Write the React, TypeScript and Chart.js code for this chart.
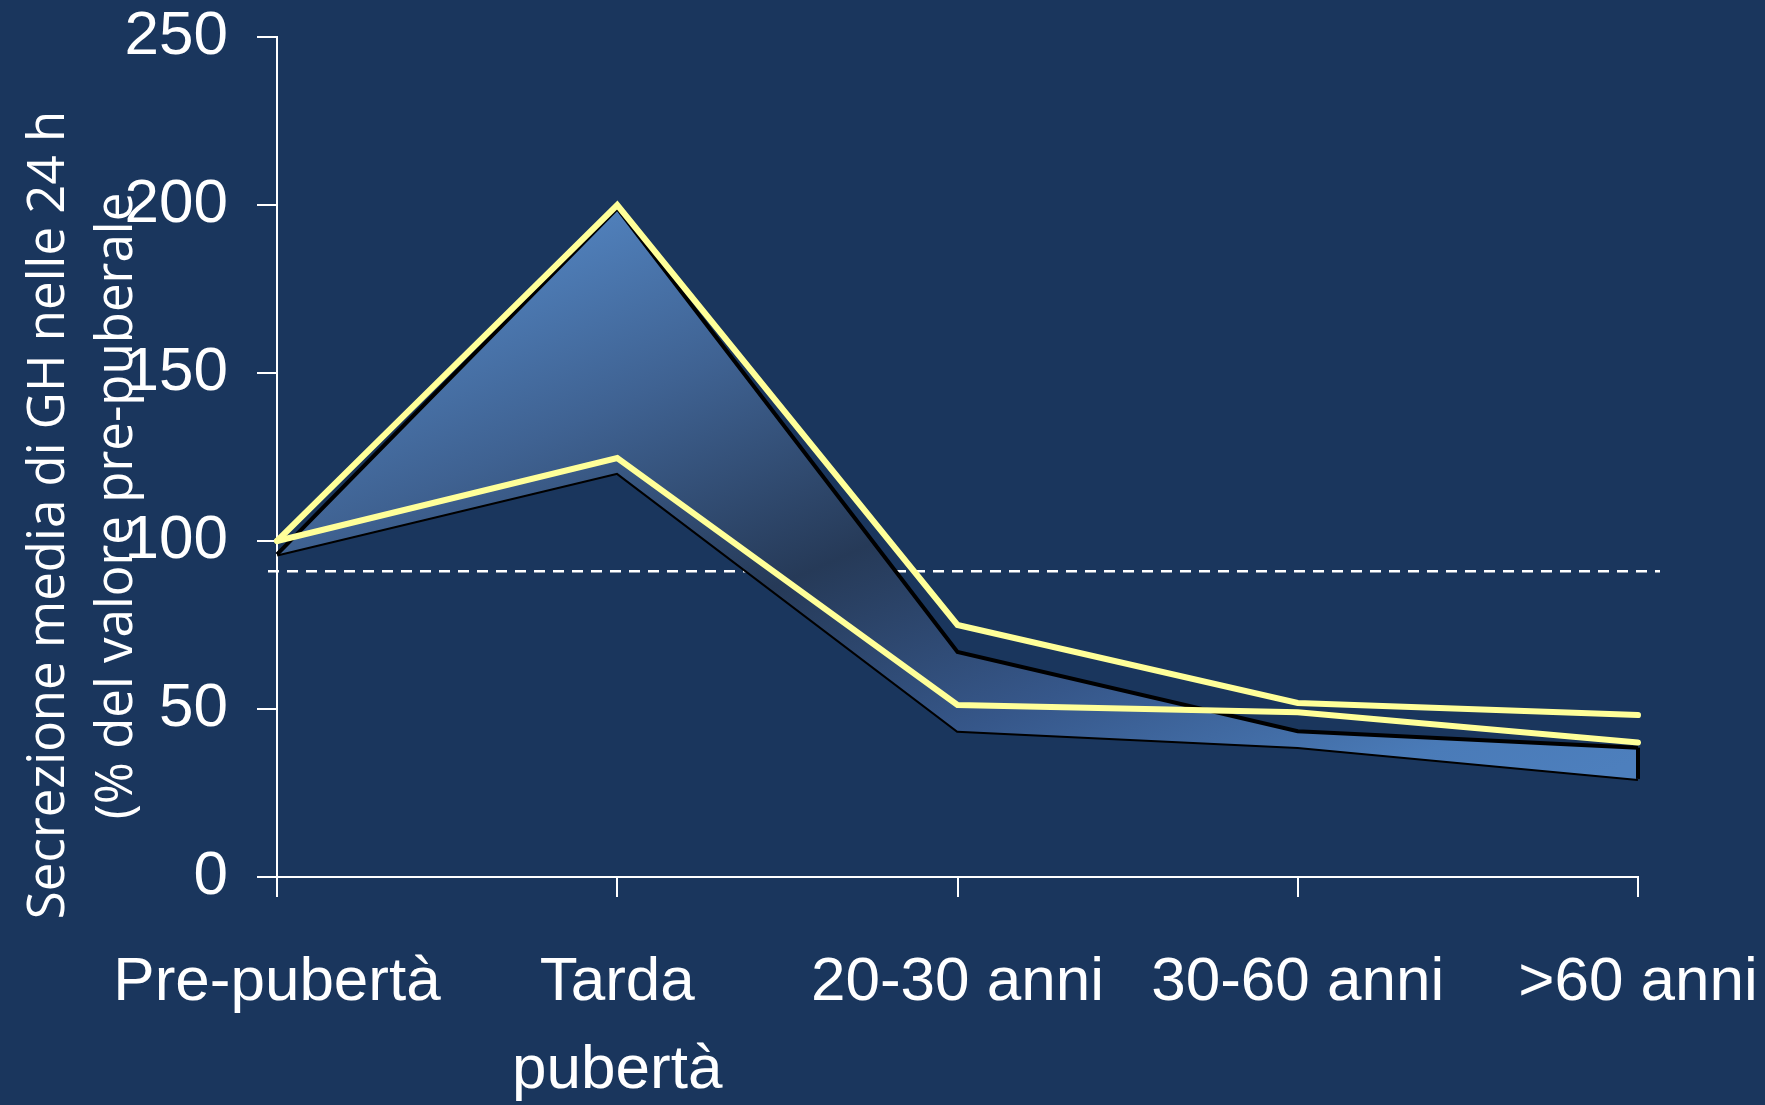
import React, { useEffect, useRef } from 'react';
import { Chart, registerables } from 'chart.js';

Chart.register(...registerables);

// ---- data ----
const categories: (string | string[])[] = ['Pre-pubertà', ['Tarda', 'pubertà'], '20-30 anni', '30-60 anni', '>60 anni'];
const yellowUpper = [100, 200, 75, 51.8, 48.2];
const yellowLower = [100, 124.7, 51.2, 49, 40];
const bandUpper = [96, 199, 67, 43.4, 38.5];
const bandLower = [96, 120.3, 43.5, 38.7, 29.2];
const referenceLevel = 91;
const yTicks = [0, 50, 100, 150, 200, 250];
const titleLines = ['Secrezione media di GH nelle 24 h', '(% del valore pre-puberale'];

const BG = '#1a365d';
const YELLOW = '#ffff99';
const SANS = "'Liberation Sans', Arial, sans-serif";

const refLinePlugin = {
  id: 'refLine',
  beforeDatasetsDraw(chart: any) {
    const { ctx, chartArea, scales } = chart;
    const py = scales.y.getPixelForValue(referenceLevel);
    ctx.save();
    ctx.strokeStyle = '#ffffff';
    ctx.lineWidth = 2.5;
    ctx.setLineDash([11, 8]);
    ctx.beginPath();
    ctx.moveTo(chartArea.left - 9, py);
    ctx.lineTo(chartArea.right + 22, py);
    ctx.stroke();
    ctx.restore();
  },
};

const bandClosePlugin = {
  id: 'bandClose',
  afterDatasetsDraw(chart: any) {
    const { ctx } = chart;
    const a = chart.getDatasetMeta(2).data;
    const b = chart.getDatasetMeta(3).data;
    if (!a.length || !b.length) return;
    const pa = a[a.length - 1];
    const pb = b[b.length - 1];
    ctx.save();
    ctx.strokeStyle = '#000000';
    ctx.lineWidth = 4;
    ctx.beginPath();
    ctx.moveTo(pa.x, pa.y);
    ctx.lineTo(pb.x, pb.y);
    ctx.stroke();
    ctx.restore();
  },
};

const titlePlugin = {
  id: 'sideTitle',
  afterDraw(chart: any) {
    const { ctx } = chart;
    const pos = [
      { x: 64, y: 515 },
      { x: 132, y: 506 },
    ];
    ctx.save();
    ctx.fillStyle = '#ffffff';
    ctx.font = "51px 'Open Sans', sans-serif";
    ctx.textAlign = 'center';
    ctx.textBaseline = 'alphabetic';
    titleLines.forEach((t, i) => {
      ctx.save();
      ctx.translate(pos[i].x, pos[i].y);
      ctx.rotate(-Math.PI / 2);
      ctx.fillText(t, 0, 0);
      ctx.restore();
    });
    ctx.restore();
  },
};

function bandGradient(context: any) {
  const chart = context.chart;
  const area = chart.chartArea;
  if (!area) return 'rgba(70,110,165,1)';
  const w = area.right - area.left;
  const h = area.bottom - area.top;
  const g = chart.ctx.createLinearGradient(
    area.left + 0.25 * w,
    area.top + 0.2 * h,
    area.left + 0.519 * w,
    area.top + 1.2 * h
  );
  g.addColorStop(0, '#5080bb');
  g.addColorStop(0.2, '#3f6292');
  g.addColorStop(0.45, '#263a58');
  g.addColorStop(0.68, '#36578a');
  g.addColorStop(0.9, '#4a7bb8');
  g.addColorStop(1, '#4d7fbd');
  return g;
}

export default function App() {
  const ref = useRef<HTMLCanvasElement | null>(null);

  useEffect(() => {
    if (!ref.current) return;
    const chart = new Chart(ref.current, {
      type: 'line',
      data: {
        labels: categories as any,
        datasets: [
          {
            label: 'upper',
            data: yellowUpper,
            borderColor: YELLOW,
            borderWidth: 6,
            borderCapStyle: 'round',
            borderJoinStyle: 'miter',
            pointRadius: 0,
            fill: false,
            tension: 0,
            order: 0,
          },
          {
            label: 'lower',
            data: yellowLower,
            borderColor: YELLOW,
            borderWidth: 6,
            borderCapStyle: 'round',
            borderJoinStyle: 'miter',
            pointRadius: 0,
            fill: false,
            tension: 0,
            order: 1,
          },
          {
            label: 'band upper',
            data: bandUpper,
            borderColor: '#000000',
            borderWidth: 4,
            borderJoinStyle: 'miter',
            pointRadius: 0,
            backgroundColor: bandGradient,
            fill: '+1',
            tension: 0,
            order: 2,
          },
          {
            label: 'band lower',
            data: bandLower,
            borderColor: '#000000',
            borderWidth: 4,
            borderJoinStyle: 'miter',
            pointRadius: 0,
            fill: false,
            tension: 0,
            order: 3,
          },
        ],
      },
      options: {
        animation: false,
        responsive: true,
        maintainAspectRatio: false,
        layout: { padding: { top: 37, right: 127, left: 0, bottom: 0 } },
        plugins: {
          legend: { display: false },
          tooltip: { enabled: false },
        },
        scales: {
          x: {
            offset: false,
            grid: {
              display: true,
              drawOnChartArea: false,
              drawTicks: true,
              tickLength: 20,
              color: '#ffffff',
              lineWidth: 2,
            },
            border: { display: true, color: '#ffffff', width: 2 },
            ticks: {
              color: '#ffffff',
              font: { family: SANS, size: 62, lineHeight: 88 / 62 },
              padding: 42,
              autoSkip: false,
              maxRotation: 0,
              minRotation: 0,
            },
            afterFit: (scale: any) => {
              scale.height = 228;
              scale.paddingLeft = 0;
              scale.paddingRight = 0;
            },
          },
          y: {
            min: 0,
            max: 250,
            afterBuildTicks: (scale: any) => {
              scale.ticks = yTicks.map((v) => ({ value: v }));
            },
            grid: {
              display: true,
              drawOnChartArea: false,
              drawTicks: true,
              tickLength: 20,
              color: '#ffffff',
              lineWidth: 2,
            },
            border: { display: true, color: '#ffffff', width: 2 },
            ticks: {
              color: '#ffffff',
              font: { family: SANS, size: 62, lineHeight: 1 },
              padding: 29,
            },
            afterFit: (scale: any) => {
              scale.width = 277;
              scale.paddingTop = 0;
              scale.paddingBottom = 0;
            },
          },
        },
      },
      plugins: [refLinePlugin, bandClosePlugin, titlePlugin],
    });
    return () => chart.destroy();
  }, []);

  return (
    <div
      style={{
        position: 'fixed',
        left: 0,
        top: 0,
        width: 1765,
        height: 1105,
        background: BG,
      }}
    >
      <canvas ref={ref} />
    </div>
  );
}
